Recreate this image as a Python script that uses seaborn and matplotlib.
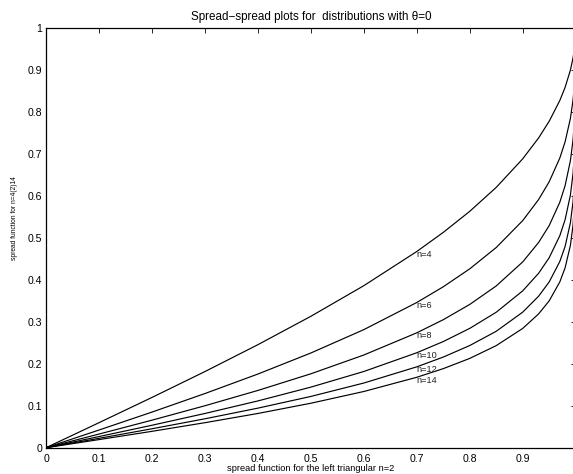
import matplotlib
matplotlib.use("Agg")
import matplotlib.pyplot as plt
import numpy as np
import pandas as pd
import seaborn as sns

sns.set_theme(style="white")
plt.rcParams["font.family"] = ["Liberation Sans", "DejaVu Sans"]

# spread function of the left triangular law (n=2) on the horizontal axis
x_spread = [0, 0.05, 0.1, 0.2, 0.3, 0.4, 0.5, 0.6, 0.7, 0.75, 0.8, 0.85,
            0.9, 0.93, 0.95, 0.97, 0.98, 0.99, 0.995, 0.998, 0.999]

# spread functions for n = 4, 6, ..., 14 at the same points
spread_n4 = [0, 0.0297, 0.0596, 0.1198, 0.1815, 0.2456, 0.3133, 0.3863, 0.4678, 0.5134, 0.5636,
             0.6207, 0.6888, 0.7386, 0.7785, 0.8278, 0.8592, 0.9002, 0.9294, 0.9553, 0.9684]
spread_n6 = [0, 0.0210, 0.0421, 0.0849, 0.1291, 0.1756, 0.2258, 0.2815, 0.3462, 0.3837, 0.4265,
             0.4773, 0.5415, 0.5917, 0.6342, 0.6906, 0.7294, 0.7849, 0.8291, 0.8741, 0.9000]
spread_n8 = [0, 0.0162, 0.0325, 0.0656, 0.1000, 0.1365, 0.1762, 0.2210, 0.2739, 0.3052, 0.3416,
             0.3857, 0.4430, 0.4893, 0.5297, 0.5852, 0.6248, 0.6842, 0.7342, 0.7886, 0.8222]
spread_n10 = [0, 0.0132, 0.0265, 0.0535, 0.0816, 0.1115, 0.1444, 0.1817, 0.2264, 0.2531, 0.2845,
              0.3230, 0.3740, 0.4159, 0.4531, 0.5054, 0.5436, 0.6023, 0.6536, 0.7115, 0.7488]
spread_n12 = [0, 0.0111, 0.0223, 0.0451, 0.0689, 0.0943, 0.1222, 0.1542, 0.1928, 0.2161, 0.2436,
              0.2776, 0.3232, 0.3612, 0.3953, 0.4439, 0.4798, 0.5362, 0.5866, 0.6451, 0.6838]
spread_n14 = [0, 0.0096, 0.0193, 0.0390, 0.0596, 0.0816, 0.1060, 0.1340, 0.1679, 0.1885, 0.2129,
              0.2434, 0.2844, 0.3190, 0.3502, 0.3952, 0.4289, 0.4824, 0.5310, 0.5885, 0.6273]

n_values = [4, 6, 8, 10, 12, 14]
series = [spread_n4, spread_n6, spread_n8, spread_n10, spread_n12, spread_n14]

tick_values = [0, 0.1, 0.2, 0.3, 0.4, 0.5, 0.6, 0.7, 0.8, 0.9, 1]
y_tick_labels = ["0", "0.1", "0.2", "0.3", "0.4", "0.5", "0.6", "0.7", "0.8", "0.9", "1"]
x_tick_labels = ["0", "0.1", "0.2", "0.3", "0.4", "0.5", "0.6", "0.7", "0.8", "0.9", ""]

label_x = 0.7

frames = [pd.DataFrame({"x": x_spread, "y": ys, "n": n}) for n, ys in zip(n_values, series)]
df = pd.concat(frames, ignore_index=True)

fig = plt.figure(figsize=(5.73, 4.74), dpi=100)
fig.patch.set_facecolor("white")
ax = fig.add_axes([0.0803, 0.0555, 0.9244, 0.8848])
ax.set_facecolor("white")

sns.lineplot(data=df, x="x", y="y", hue="n", units="n", estimator=None,
             palette={n: "black" for n in n_values}, sort=False, legend=False,
             linewidth=0.85, ax=ax)

# curve annotations at x = 0.7
idx = x_spread.index(label_x)
for n, ys in zip(n_values, series):
    ax.annotate(f"n={n}", xy=(label_x, ys[idx]), xytext=(0, -2.2),
                textcoords="offset points", ha="left", va="center",
                fontsize=6.6, color="#222222")

ax.set_xlim(0, 1)
ax.set_ylim(0, 1)
ax.set_xticks(tick_values)
ax.set_xticklabels(x_tick_labels)
ax.set_yticks(tick_values)
ax.set_yticklabels(y_tick_labels)
ax.tick_params(direction="in", top=True, right=True, length=3.6, width=0.6,
               labelsize=7.6, colors="black")
ax.tick_params(axis="x", pad=4.2)
ax.tick_params(axis="y", pad=2.6)
for sp in ax.spines.values():
    sp.set_visible(True)
    sp.set_color("black")
    sp.set_linewidth(0.9)

ax.set_title("Spread\u2212spread plots for  distributions with \u03b8=0",
             fontsize=8.4, pad=6, color="black")
ax.set_xlabel("spread function for the left triangular n=2", fontsize=6.7, color="black")
ax.set_ylabel("spread function for n=4(2)14", fontsize=4.8, color="black")
ax.xaxis.set_label_coords(0.5, -0.038)
ax.yaxis.set_label_coords(-0.052, 0.548)

fig.savefig("out.png", dpi=100, facecolor="white")
